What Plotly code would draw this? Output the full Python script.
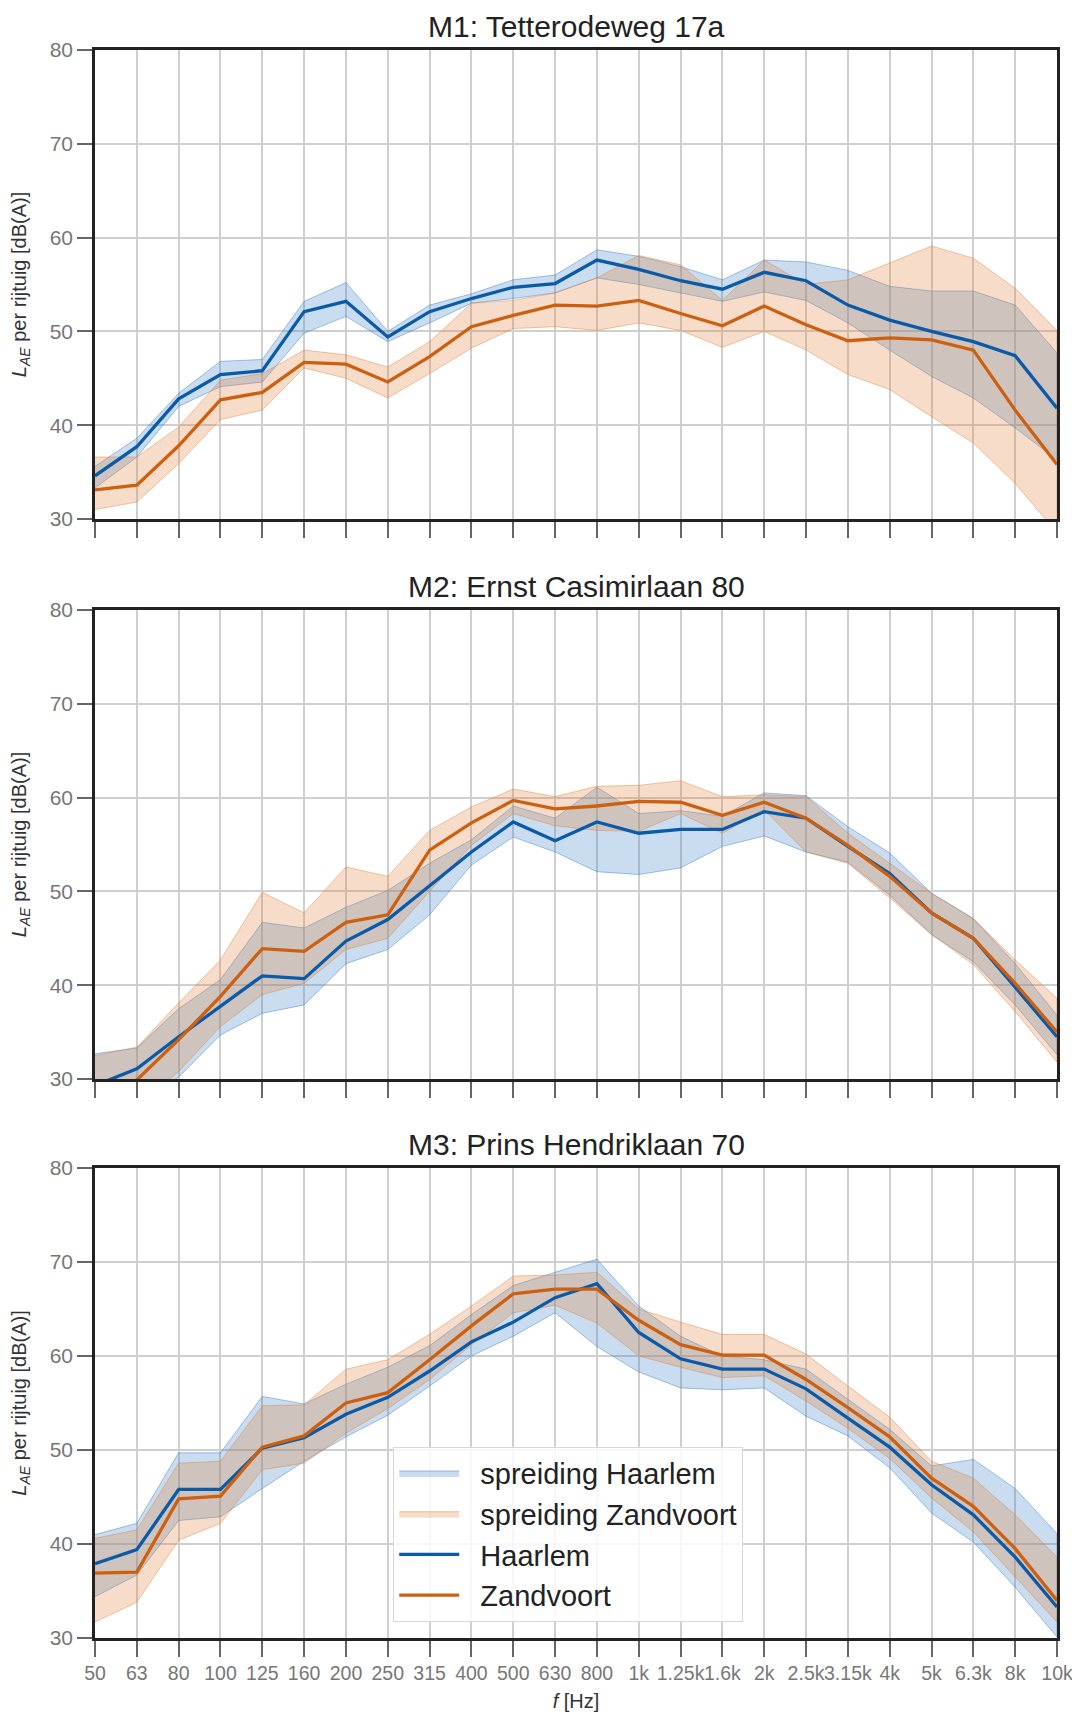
import plotly.graph_objects as go

freq_labels = ["50", "63", "80", "100", "125", "160", "200", "250", "315", "400", "500", "630",
               "800", "1k", "1.25k", "1.6k", "2k", "2.5k", "3.15k", "4k", "5k", "6.3k", "8k", "10k"]

titles = ["M1: Tetterodeweg 17a", "M2: Ernst Casimirlaan 80", "M3: Prins Hendriklaan 70"]

# M1
m1_haarlem = [34.6, 37.7, 42.8, 45.4, 45.8, 52.1, 53.2, 49.4, 52.1, 53.5, 54.7, 55.1, 57.6, 56.6, 55.4, 54.5, 56.3, 55.4, 52.8, 51.2, 50.0, 48.9, 47.4, 41.8]
m1_haarlem_hi = [35.6, 38.6, 43.4, 46.8, 47.0, 53.2, 55.2, 50.0, 52.8, 54.0, 55.5, 56.0, 58.7, 58.0, 56.9, 55.5, 57.6, 57.4, 56.5, 54.8, 54.3, 54.3, 52.8, 47.7]
m1_haarlem_lo = [33.3, 36.6, 42.0, 44.1, 44.6, 49.8, 51.6, 48.9, 50.9, 53.0, 53.5, 54.1, 55.7, 55.0, 54.1, 53.2, 54.2, 53.3, 50.9, 48.0, 45.2, 42.9, 39.7, 36.3]
m1_zandvoort = [33.1, 33.6, 37.8, 42.7, 43.5, 46.7, 46.5, 44.6, 47.3, 50.5, 51.7, 52.8, 52.7, 53.3, 51.9, 50.6, 52.7, 50.7, 49.0, 49.3, 49.1, 48.0, 41.6, 35.8]
m1_zandvoort_hi = [36.6, 36.6, 39.8, 44.8, 45.5, 48.0, 47.5, 46.2, 48.9, 53.0, 53.3, 54.1, 55.7, 58.1, 57.1, 53.3, 57.6, 55.0, 55.5, 57.3, 59.1, 57.8, 54.6, 50.1]
m1_zandvoort_lo = [31.0, 31.8, 35.9, 40.6, 41.6, 46.1, 45.0, 42.9, 45.5, 48.2, 50.3, 50.5, 50.1, 50.9, 50.1, 48.3, 50.0, 48.0, 45.4, 43.8, 40.9, 38.1, 33.8, 28.5]

# M2
m2_haarlem = [29.3, 31.1, 34.5, 37.8, 41.0, 40.7, 44.7, 47.0, 50.6, 54.2, 57.4, 55.4, 57.4, 56.2, 56.6, 56.6, 58.5, 57.8, 54.8, 51.9, 47.7, 45.0, 39.8, 34.5]
m2_haarlem_hi = [32.7, 33.3, 37.5, 40.6, 46.7, 46.1, 48.3, 50.1, 53.0, 55.5, 59.1, 57.8, 61.1, 58.3, 58.6, 58.0, 60.5, 60.2, 56.9, 54.1, 49.8, 47.1, 42.3, 36.8]
m2_haarlem_lo = [26.0, 27.5, 30.2, 34.7, 37.0, 37.9, 42.3, 43.8, 47.5, 52.8, 55.8, 54.2, 52.1, 51.8, 52.5, 54.8, 55.9, 54.2, 53.1, 49.6, 45.4, 42.5, 37.9, 32.6]
m2_zandvoort = [27.0, 29.9, 34.2, 38.8, 43.9, 43.6, 46.7, 47.5, 54.4, 57.3, 59.7, 58.8, 59.1, 59.6, 59.5, 58.1, 59.5, 57.8, 54.9, 51.6, 47.7, 45.0, 40.2, 35.0]
m2_zandvoort_hi = [32.5, 33.4, 38.1, 42.7, 49.9, 47.7, 52.6, 51.6, 56.5, 59.0, 60.9, 60.1, 61.2, 61.3, 61.8, 60.1, 60.3, 60.1, 56.2, 53.0, 49.8, 47.1, 42.7, 38.6]
m2_zandvoort_lo = [25.0, 27.0, 30.8, 35.6, 39.0, 40.2, 43.8, 45.0, 50.0, 54.9, 58.3, 57.0, 56.5, 56.4, 58.3, 56.2, 58.7, 54.2, 53.0, 49.3, 45.4, 42.2, 37.2, 31.8]

# M3
m3_haarlem = [37.9, 39.4, 45.8, 45.8, 50.2, 51.3, 53.8, 55.6, 58.4, 61.5, 63.6, 66.2, 67.7, 62.5, 59.7, 58.6, 58.6, 56.5, 53.4, 50.3, 46.3, 43.1, 38.6, 33.3]
m3_haarlem_hi = [41.0, 42.2, 49.7, 49.7, 55.7, 54.9, 57.0, 58.8, 61.1, 64.4, 67.5, 68.9, 70.3, 65.3, 62.1, 60.0, 59.6, 58.6, 55.4, 52.2, 48.3, 49.0, 45.9, 41.1]
m3_haarlem_lo = [34.4, 36.7, 42.5, 42.9, 45.9, 48.8, 51.4, 53.7, 56.8, 60.0, 62.1, 64.6, 61.0, 58.3, 56.6, 56.4, 56.6, 53.6, 51.5, 48.1, 43.3, 40.2, 35.4, 30.1]
m3_zandvoort = [36.9, 37.0, 44.8, 45.1, 50.3, 51.5, 55.0, 56.1, 59.6, 63.2, 66.6, 67.1, 67.1, 63.8, 61.2, 60.1, 60.1, 57.5, 54.5, 51.4, 47.0, 44.0, 39.5, 34.0]
m3_zandvoort_hi = [40.6, 41.5, 48.6, 48.8, 54.7, 54.8, 58.6, 59.6, 62.3, 65.3, 68.5, 68.6, 68.9, 65.0, 63.6, 62.3, 62.3, 60.2, 56.8, 53.5, 48.8, 47.0, 43.1, 38.6]
m3_zandvoort_lo = [31.7, 33.8, 40.4, 42.2, 47.9, 48.6, 51.8, 54.4, 57.5, 61.2, 64.6, 65.4, 63.5, 60.0, 58.8, 57.7, 57.9, 55.2, 52.3, 49.1, 44.9, 41.3, 36.5, 31.7]

panels = [
    (m1_haarlem, m1_haarlem_lo, m1_haarlem_hi, m1_zandvoort, m1_zandvoort_lo, m1_zandvoort_hi),
    (m2_haarlem, m2_haarlem_lo, m2_haarlem_hi, m2_zandvoort, m2_zandvoort_lo, m2_zandvoort_hi),
    (m3_haarlem, m3_haarlem_lo, m3_haarlem_hi, m3_zandvoort, m3_zandvoort_lo, m3_zandvoort_hi),
]

BLUE = "#0b5aa8"
ORANGE = "#cc6010"
BLUE_FILL = "rgba(55,125,200,0.27)"
BLUE_EDGE = "rgba(55,125,200,0.45)"
OR_FILL = "rgba(225,128,55,0.27)"
OR_EDGE = "rgba(225,128,55,0.45)"
FONT = "Liberation Sans, Arial, sans-serif"
PAD = "\u00a0\u00a0"

x = list(range(len(freq_labels)))
domains = [(0.7047, 1.0), (0.3520, 0.6474), (0.0, 0.2960)]

fig = go.Figure()

for i, (h, hlo, hhi, z, zlo, zhi) in enumerate(panels):
    xa = "x" if i == 0 else f"x{i+1}"
    ya = "y" if i == 0 else f"y{i+1}"
    show = (i == 2)
    poly_x = x + x[::-1]
    fig.add_trace(go.Scatter(x=poly_x, y=hhi + hlo[::-1], fill="toself", fillcolor=BLUE_FILL,
                             mode="lines", line=dict(color=BLUE_EDGE, width=1),
                             name=PAD + "spreiding Haarlem", showlegend=show, xaxis=xa, yaxis=ya,
                             hoverinfo="skip"))
    fig.add_trace(go.Scatter(x=poly_x, y=zhi + zlo[::-1], fill="toself", fillcolor=OR_FILL,
                             mode="lines", line=dict(color=OR_EDGE, width=1),
                             name=PAD + "spreiding Zandvoort", showlegend=show, xaxis=xa, yaxis=ya,
                             hoverinfo="skip"))
    fig.add_trace(go.Scatter(x=x, y=h, mode="lines", line=dict(color=BLUE, width=3.3),
                             name=PAD + "Haarlem", showlegend=show, xaxis=xa, yaxis=ya))
    fig.add_trace(go.Scatter(x=x, y=z, mode="lines", line=dict(color=ORANGE, width=3.3),
                             name=PAD + "Zandvoort", showlegend=show, xaxis=xa, yaxis=ya))

layout = dict(
    width=1064, height=1704,
    margin=dict(l=87, r=15, t=42, b=74),
    paper_bgcolor="white", plot_bgcolor="white",
    font=dict(family=FONT, color="#222"),
    showlegend=True,
    legend=dict(x=0.31, y=0.1205, xanchor="left", yanchor="top",
                bgcolor="rgba(255,255,255,0.85)", bordercolor="#d8d8d8", borderwidth=1,
                font=dict(size=29, color="#222", family=FONT), itemwidth=60,
                tracegroupgap=0),
    annotations=[],
)

for i in range(3):
    sx = "" if i == 0 else str(i + 1)
    layout[f"xaxis{sx}"] = dict(
        domain=[0, 1], anchor=f"y{sx}", range=[0, len(freq_labels) - 1],
        tickmode="array", tickvals=x, ticktext=freq_labels,
        showticklabels=(i == 2), tickangle=0, automargin=False,
        ticklabeloverflow="allow",
        ticks="outside", ticklen=16, tickwidth=2, tickcolor="#666",
        tickfont=dict(size=19.5, color="#777", family=FONT),
        showgrid=True, gridcolor="#cfcfcf", gridwidth=2,
        showline=True, mirror=True, linecolor="#222", linewidth=2.5,
        zeroline=False,
    )
    if i == 2:
        layout[f"xaxis{sx}"]["title"] = dict(text="<i>f</i> [Hz]", font=dict(size=20, color="#333"),
                                            standoff=12)
    layout[f"yaxis{sx}"] = dict(
        domain=list(domains[i]), anchor=f"x{sx}", range=[30, 80], automargin=False,
        tickmode="array", tickvals=[30, 40, 50, 60, 70, 80],
        ticks="outside", ticklen=15, tickwidth=2, tickcolor="#666",
        tickfont=dict(size=21, color="#777", family=FONT),
        showgrid=True, gridcolor="#cfcfcf", gridwidth=2,
        showline=True, mirror=True, linecolor="#222", linewidth=2.5,
        zeroline=False,
        title=dict(text="<i>L</i><sub><i>AE</i></sub> per rijtuig [dB(A)]",
                   font=dict(size=20, color="#333"), standoff=26),
    )
    layout["annotations"].append(dict(
        text=titles[i], xref="paper", yref="paper", x=0.5, y=domains[i][1],
        xanchor="center", yanchor="bottom", yshift=5, showarrow=False,
        font=dict(size=30, color="#222", family=FONT)))

fig.update_layout(**layout)
fig.write_html("out.html")
